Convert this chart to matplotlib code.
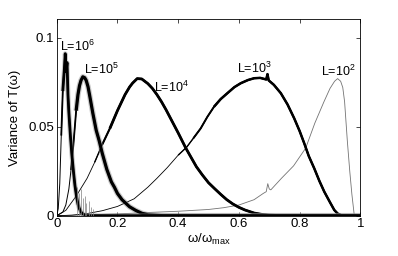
import numpy as np
import matplotlib
matplotlib.use("Agg")
import matplotlib.pyplot as plt

plt.rcParams['font.family'] = ['Liberation Sans', 'DejaVu Sans']
plt.rcParams['mathtext.fontset'] = 'custom'
plt.rcParams['mathtext.rm'] = 'Liberation Sans'
plt.rcParams['mathtext.it'] = 'Liberation Sans:italic'

# ---- data ----
w_L2 = [0, 0.1, 0.2, 0.3, 0.4, 0.5, 0.55, 0.6, 0.65, 0.68, 0.69, 0.695, 0.70, 0.705,
        0.74, 0.78, 0.82, 0.85, 0.88, 0.90, 0.915, 0.925, 0.935, 0.942, 0.948,
        0.957, 0.965, 0.972, 0.98, 1.0]
v_L2 = [0, 0.0005, 0.001, 0.0018, 0.0025, 0.0035, 0.0045, 0.006, 0.009, 0.0125,
        0.0135, 0.018, 0.015, 0.0145, 0.021, 0.028, 0.038, 0.052, 0.064, 0.0715,
        0.0755, 0.077, 0.0755, 0.072, 0.064, 0.042, 0.025, 0.012, 0, 0]

w_L3 = [0, 0.05, 0.1, 0.15, 0.2, 0.255, 0.3, 0.33, 0.364, 0.4, 0.428, 0.45, 0.474,
        0.496, 0.518, 0.54, 0.562, 0.585, 0.606, 0.63, 0.65, 0.67, 0.69, 0.694,
        0.698, 0.715, 0.738, 0.76, 0.782, 0.8, 0.815, 0.83, 0.848, 0.865, 0.881,
        0.9, 0.914, 0.925, 0.936, 0.95, 1.0]
v_L3 = [0, 0.0003, 0.0012, 0.0028, 0.0052, 0.0095, 0.016, 0.021, 0.027, 0.034,
        0.0385, 0.0435, 0.049, 0.0555, 0.0612, 0.0655, 0.0688, 0.0722, 0.0744,
        0.0762, 0.0772, 0.0774, 0.0765, 0.0795, 0.0760, 0.0735, 0.0688, 0.0625,
        0.0547, 0.0475, 0.0407, 0.0335, 0.0266, 0.0195, 0.0135, 0.0075, 0.0032,
        0.0012, 0.0003, 0, 0]

w_L4 = [0, 0.03, 0.064, 0.1, 0.125, 0.15, 0.175, 0.2, 0.225, 0.24, 0.25, 0.265,
        0.28, 0.3, 0.315, 0.33, 0.345, 0.36, 0.38, 0.4, 0.425, 0.44, 0.46, 0.48,
        0.5, 0.52, 0.54, 0.56, 0.58, 0.6, 0.62, 0.65, 0.68, 0.7, 0.75, 1.0]
v_L4 = [0, 0.003, 0.011, 0.021, 0.030, 0.040, 0.049, 0.059, 0.068, 0.0723,
        0.0745, 0.077, 0.0768, 0.0742, 0.0715, 0.068, 0.064, 0.0595, 0.053, 0.0465,
        0.038, 0.0335, 0.0275, 0.0228, 0.0185, 0.0152, 0.012, 0.009, 0.0066,
        0.0047, 0.0032, 0.0015, 0.0006, 0.0003, 0, 0]

w_L5 = [0, 0.02, 0.03, 0.04, 0.047, 0.055, 0.064, 0.07, 0.075, 0.08, 0.086, 0.092,
        0.097, 0.103, 0.108, 0.119, 0.13, 0.14, 0.15, 0.165, 0.18, 0.19, 0.2,
        0.215, 0.24, 0.26, 0.28, 0.3, 0.35, 1.0]
v_L5 = [0, 0.002, 0.006, 0.015, 0.0257, 0.040, 0.059, 0.068, 0.073, 0.076, 0.078,
        0.0775, 0.076, 0.0725, 0.068, 0.0575, 0.048, 0.042, 0.035, 0.026, 0.019,
        0.016, 0.0125, 0.009, 0.005, 0.003, 0.0014, 0.0005, 0, 0]

w_L6 = [0, 0.005, 0.01, 0.015, 0.02, 0.025, 0.028, 0.031, 0.034, 0.037, 0.04, 0.045,
        0.05, 0.055, 0.06, 0.065, 0.07, 0.075, 0.08, 0.09, 0.1, 1.0]
v_L6 = [0, 0.004, 0.018, 0.045, 0.070, 0.082, 0.091, 0.081, 0.086, 0.068, 0.058,
        0.045, 0.034, 0.025, 0.017, 0.011, 0.0065, 0.0038, 0.002, 0.0005, 0, 0]

# isolated fluctuation spikes of the L=10^6 curve near the axis
spike_w = [0.066, 0.072, 0.079, 0.085, 0.092, 0.098, 0.105, 0.112, 0.12]
spike_v = [0.016, 0.013, 0.015, 0.010, 0.011, 0.007, 0.008, 0.005, 0.004]

labels = ['L=10$^6$', 'L=10$^5$', 'L=10$^4$', 'L=10$^3$', 'L=10$^2$']
label_w = [0.067, 0.148, 0.379, 0.652, 0.927]
label_v = [0.0950, 0.0822, 0.0720, 0.0830, 0.0810]

xticks = [0, 0.2, 0.4, 0.6, 0.8, 1]
xticklabels = ['0', '0.2', '0.4', '0.6', '0.8', '1']
yticks = [0, 0.05, 0.1]
yticklabels = ['0', '0.05', '0.1']

FS = 9.5
FS_LAB = 9

# ---- figure ----
fig = plt.figure(figsize=(3.98, 2.56), dpi=100)
ax = fig.add_axes([0.1425, 0.1574, 0.763, 0.7672])


def draw(w, v, stages, halo=0.0):
    """stages: list of (start_w, linewidth); thicker where noise is larger."""
    w = np.asarray(w)
    v = np.asarray(v)
    for i, (start, lw) in enumerate(stages):
        m = w >= start
        if halo > 0 and i == len(stages) - 1:
            ax.plot(w[m], v[m], color='0.55', lw=halo, alpha=0.45,
                    solid_capstyle='butt', solid_joinstyle='round')
        ax.plot(w[m], v[m], color='black', lw=lw, solid_capstyle='butt',
                solid_joinstyle='round')


ax.plot(w_L2, v_L2, color='0.45', lw=0.6)
draw(w_L3, v_L3, [(0, 0.6), (0.38, 1.0), (0.45, 1.4), (0.5, 1.8)])
draw(w_L4, v_L4, [(0, 0.6), (0.125, 1.0), (0.15, 1.5), (0.175, 2.0)])
draw(w_L5, v_L5, [(0, 0.7), (0.047, 1.3), (0.064, 2.3)], halo=4.0)
draw(w_L6, v_L6, [(0, 0.7), (0.015, 1.3), (0.02, 2.0)], halo=3.5)
ax.vlines(spike_w, 0, spike_v, color='0.5', lw=0.5)

for t, x, y in zip(labels, label_w, label_v):
    ax.text(x, y, t, ha='center', va='center', fontsize=FS_LAB)

ax.set_xlim(0, 1)
ax.set_ylim(0, 0.1103)
ax.set_xticks(xticks)
ax.set_xticklabels(xticklabels)
ax.set_yticks(yticks)
ax.set_yticklabels(yticklabels)
ax.tick_params(direction='in', top=True, right=True, length=3, width=0.5,
               labelsize=FS, pad=2)
for s in ax.spines.values():
    s.set_linewidth(0.6)
ax.set_xlabel('ω/ω$_{\\mathrm{max}}$', fontsize=FS, labelpad=1)
ax.set_ylabel('Variance of T(ω)', fontsize=FS, labelpad=5)

fig.savefig('out.png', dpi=100)
